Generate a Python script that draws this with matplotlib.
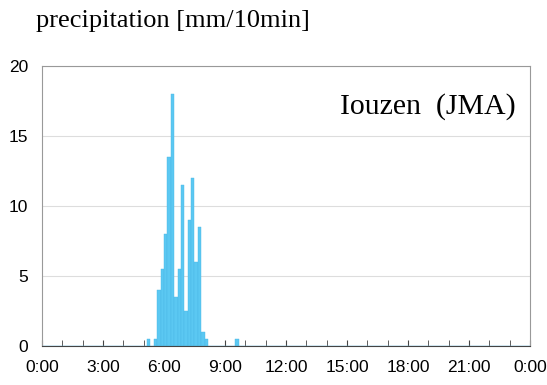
import numpy as np
import matplotlib
matplotlib.use("Agg")
import matplotlib.pyplot as plt

# 10-minute precipitation, bins starting at 0:00 (144 bins per day)
nonzero_bins = [31, 33, 34, 35, 36, 37, 38, 39, 40, 41, 42, 43, 44, 45, 46, 47, 48, 57]
nonzero_vals = [0.5, 0.5, 4.0, 5.5, 8.0, 13.5, 18.0, 3.5, 5.5, 11.5, 2.5, 9.0, 12.0, 6.0, 8.5, 1.0, 0.5, 0.5]
hour_ticks = [0, 3, 6, 9, 12, 15, 18, 21, 24]
hour_labels = ["0:00", "3:00", "6:00", "9:00", "12:00", "15:00", "18:00", "21:00", "0:00"]

precip = np.zeros(144)
precip[nonzero_bins] = nonzero_vals
t = np.arange(144) / 6.0

fig = plt.figure(figsize=(5.47, 3.85), dpi=100)
ax = fig.add_axes([0.0768, 0.1013, 0.892, 0.7273])

ax.bar(t, precip, width=1 / 6.0, align="edge", color="#5bc8f2",
       edgecolor="#4cb8e6", linewidth=0.3, zorder=2)

ax.set_xlim(0, 24)
ax.set_ylim(0, 20)
ax.set_yticks([0, 5, 10, 15, 20])
ax.set_xticks(hour_ticks)
ax.set_xticklabels(hour_labels)
ax.set_xticks(np.arange(0, 25, 1), minor=True)
ax.grid(axis="y", color="#dddddd", linewidth=0.8, zorder=0)

for s in ["top", "right", "left"]:
    ax.spines[s].set_color("#999999")
ax.spines["bottom"].set_color("#444444")
ax.tick_params(axis="y", length=0, pad=10, labelsize=12.5)
ax.tick_params(axis="x", which="both", direction="in", length=4, color="#444444",
               pad=10, labelsize=12.5)
for lab in ax.get_xticklabels() + ax.get_yticklabels():
    lab.set_family("Liberation Sans")

fig.text(0.066, 0.945, "precipitation [mm/10min]", family="Liberation Serif",
         fontsize=19, va="center", ha="left")
ax.text(0.97, 0.855, "Iouzen  (JMA)", transform=ax.transAxes,
        family="Liberation Serif", fontsize=21.5, ha="right", va="center")

fig.savefig("out.png", dpi=100)
